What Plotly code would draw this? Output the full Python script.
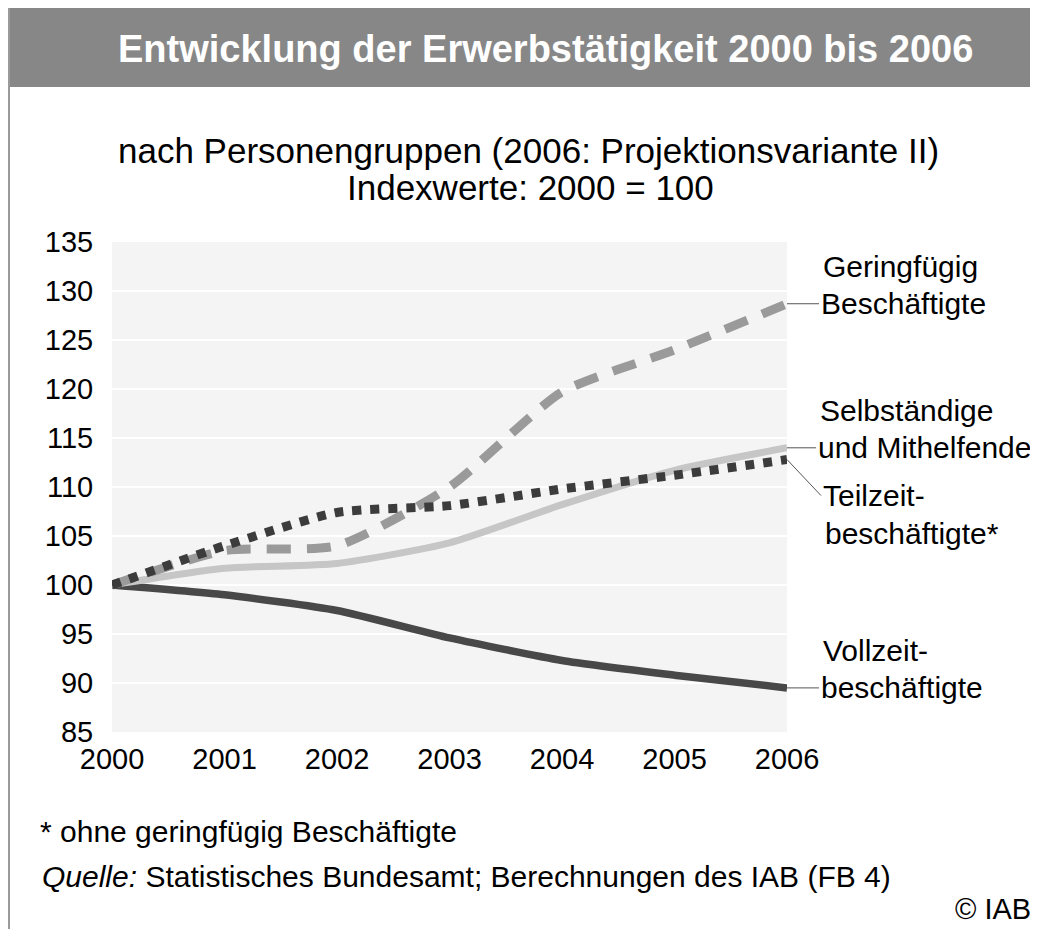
import plotly.graph_objects as go

years = [2000, 2001, 2002, 2003, 2004, 2005, 2006]
vollzeit = [100, 99.0, 97.4, 94.6, 92.3, 90.8, 89.5]
selbstaendige = [100, 101.7, 102.2, 104.3, 108.2, 111.7, 114.0]
teilzeit = [100, 104.0, 107.4, 108.1, 109.8, 111.2, 112.8]
geringfuegig = [100, 103.5, 104.0, 110.0, 119.7, 124.0, 128.7]

# page body has an 8px margin, so the figure starts at (8, 8) on screen
OFF = 8
W, H = 1038 - OFF, 937 - 2 * OFF
L, R, T, B = 112 - OFF, 787 - OFF, 242 - OFF, 732 - OFF
FONT = "Liberation Sans, Arial, sans-serif"


def px(x):
    # screen x -> paper x
    return (x - OFF - L) / (R - L)


def py(y):
    # screen y -> paper y
    return (B - (y - OFF)) / (B - T)


fig = go.Figure()

fig.add_trace(go.Scatter(x=years, y=vollzeit, mode="lines", name="Vollzeit",
                         line=dict(color="#484848", width=7.5, shape="spline", smoothing=0.6)))
fig.add_trace(go.Scatter(x=years, y=selbstaendige, mode="lines", name="Selbständige",
                         line=dict(color="#c6c6c6", width=7, shape="spline", smoothing=0.6)))
fig.add_trace(go.Scatter(x=years, y=geringfuegig, mode="lines", name="Geringfügig",
                         line=dict(color="#9a9a9a", width=9, shape="spline", smoothing=0.6,
                                   dash="24px,16px")))
fig.add_trace(go.Scatter(x=years, y=teilzeit, mode="lines", name="Teilzeit",
                         line=dict(color="#3c3c3c", width=9, shape="spline", smoothing=0.6,
                                   dash="9px,9px")))

# right-hand labels: (text above, text at connector, end value, ax, ay)
labels = [
    ("Geringfügig", "Beschäftigte", geringfuegig[-1], 32, 0),
    ("Selbständige", "und Mithelfende", selbstaendige[-1], 29, 0),
    (None, "Teilzeit-", teilzeit[-1], 34, 36),
    ("Vollzeit-", "beschäftigte", vollzeit[-1], 32, 0),
]
lab_font = dict(size=30, color="black", family=FONT)
anns = []
for top, main, val, ax, ay in labels:
    anns.append(dict(x=2006, y=val, xref="x", yref="y", text=main, showarrow=True,
                     ax=ax, ay=ay, xanchor="left", yanchor="middle", arrowhead=0,
                     arrowwidth=1, arrowcolor="#555555", font=lab_font))
    if top:
        anns.append(dict(x=2006, y=val, xref="x", yref="y", text=top, showarrow=False,
                         xshift=ax + 2, yshift=37, xanchor="left", yanchor="middle",
                         font=lab_font))
anns.append(dict(x=2006, y=teilzeit[-1], xref="x", yref="y", text="beschäftigte*",
                 showarrow=False, xshift=36, yshift=-74, xanchor="left", yanchor="middle",
                 font=lab_font))

# title, subtitle, footnotes
txt_font = dict(size=30, color="black", family=FONT)
anns += [
    dict(x=px(545), y=py(49), xref="paper", yref="paper", showarrow=False,
         xanchor="center", yanchor="middle",
         text="<b>Entwicklung der Erwerbstätigkeit 2000 bis 2006</b>",
         font=dict(size=38, color="white", family=FONT)),
    dict(x=px(528), y=py(150), xref="paper", yref="paper", showarrow=False,
         xanchor="center", yanchor="middle",
         text="nach Personengruppen (2006: Projektionsvariante II)",
         font=dict(size=35, color="black", family=FONT)),
    dict(x=px(530), y=py(187), xref="paper", yref="paper", showarrow=False,
         xanchor="center", yanchor="middle",
         text="Indexwerte: 2000 = 100",
         font=dict(size=35, color="black", family=FONT)),
    dict(x=px(38), y=py(831), xref="paper", yref="paper", showarrow=False,
         xanchor="left", yanchor="middle", text="* ohne geringfügig Beschäftigte",
         font=txt_font),
    dict(x=px(40), y=py(876), xref="paper", yref="paper", showarrow=False,
         xanchor="left", yanchor="middle",
         text="<i>Quelle:</i> Statistisches Bundesamt; Berechnungen des IAB (FB 4)",
         font=txt_font),
    dict(x=px(1033), y=py(909), xref="paper", yref="paper", showarrow=False,
         xanchor="right", yanchor="middle", text="© IAB",
         font=dict(size=29, color="black", family=FONT)),
]

shapes = [
    dict(type="rect", xref="paper", yref="paper", x0=px(8), x1=px(1040),
         y0=py(87), y1=py(6), fillcolor="#878787", line=dict(width=0), layer="below"),
    dict(type="line", xref="paper", yref="paper", x0=px(9), x1=px(9),
         y0=py(8), y1=py(937), line=dict(color="#9a9a9a", width=2)),
]

fig.update_layout(
    width=W, height=H,
    margin=dict(l=L, r=W - R, t=T, b=H - B),
    paper_bgcolor="white",
    plot_bgcolor="#f4f4f4",
    showlegend=False,
    font=dict(family=FONT, color="black"),
    annotations=anns,
    shapes=shapes,
    xaxis=dict(range=[2000, 2006], tickvals=years, ticktext=[str(y) for y in years],
               showgrid=False, zeroline=False, showline=False,
               tickfont=dict(size=29), ticks="outside", ticklen=1, tickcolor="rgba(0,0,0,0)"),
    yaxis=dict(range=[85, 135], dtick=5, showgrid=True, gridcolor="white", gridwidth=2,
               zeroline=False, showline=False, tickfont=dict(size=29),
               ticks="outside", ticklen=12, tickcolor="rgba(0,0,0,0)"),
)

fig.write_html("out.html")
